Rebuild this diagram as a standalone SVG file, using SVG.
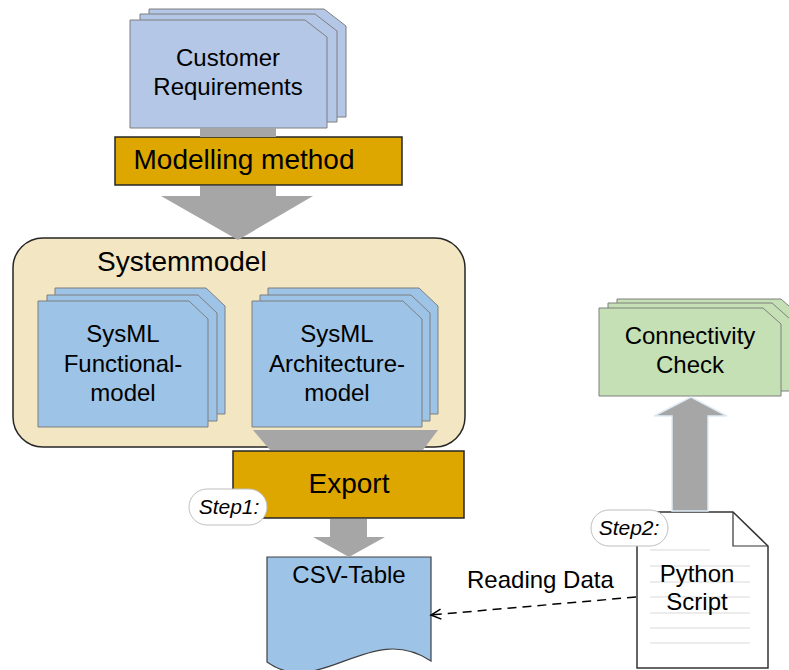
<svg xmlns="http://www.w3.org/2000/svg" width="789" height="670" viewBox="0 0 789 670">
  <style>
    text { font-family: "Liberation Sans", Arial, sans-serif; fill: #000; }
    .lbl { font-size: 24px; text-anchor: middle; }
    .big { font-size: 28px; }
    .step { font-size: 21px; font-style: italic; text-anchor: middle; }
    .card { stroke: #7f7f7f; stroke-width: 1; }
    .blue { fill: #9dc3e6; }
    .lav { fill: #b4c7e7; }
    .green { fill: #c5e0b4; }
    .bar { fill: #dea700; stroke: #262626; stroke-width: 1.5; }
    .flow { fill: #a6a6a6; }
    .pill { fill: #fff; stroke: #bfbfbf; stroke-width: 1; }
    .rule { stroke: #d9d9d9; stroke-width: 1; }
  </style>
  <defs>
    <!-- card outlines with a clipped top-right corner -->
    <path id="cardReq" d="M0,0 H175 L197,17 V108 H0 Z"/>
    <path id="cardSys" d="M0,0 H151 L170,18 V126 H0 Z"/>
    <path id="cardChk" d="M0,0 H164 L182,16 V88 H0 Z"/>
    <marker id="open" markerWidth="14" markerHeight="14" refX="12" refY="7" orient="auto" markerUnits="userSpaceOnUse">
      <path d="M2,2 L12,7 L2,12" fill="none" stroke="#000" stroke-width="1.5"/>
    </marker>
  </defs>

  <g id="customer-requirements">
    <use href="#cardReq" class="card lav" x="149" y="9"/>
    <use href="#cardReq" class="card lav" x="140" y="14"/>
    <use href="#cardReq" class="card lav" x="130" y="20"/>
    <text class="lbl" x="228" y="66">Customer</text>
    <text class="lbl" x="228" y="95">Requirements</text>
  </g>

  <g id="modelling-method">
    <rect class="bar" x="115" y="137" width="287" height="48"/>
    <text class="big" x="244" y="169" text-anchor="middle">Modelling method</text>
  </g>

  <g id="systemmodel">
    <rect x="13" y="238" width="452" height="209" rx="30" fill="#f3e6c3" stroke="#262626" stroke-width="1.5"/>
    <text class="big" x="97" y="271">Systemmodel</text>
  </g>

  <g id="functional-model">
    <use href="#cardSys" class="card blue" x="55" y="288"/>
    <use href="#cardSys" class="card blue" x="47" y="295"/>
    <use href="#cardSys" class="card blue" x="38" y="301"/>
    <text class="lbl" x="123" y="342">SysML</text>
    <text class="lbl" x="123" y="372">Functional-</text>
    <text class="lbl" x="123" y="401">model</text>
  </g>

  <g id="architecture-model">
    <use href="#cardSys" class="card blue" x="268" y="288"/>
    <use href="#cardSys" class="card blue" x="260" y="295"/>
    <use href="#cardSys" class="card blue" x="252" y="301"/>
    <text class="lbl" x="337" y="342">SysML</text>
    <text class="lbl" x="337" y="372">Architecture-</text>
    <text class="lbl" x="337" y="401">model</text>
  </g>

  <g id="export">
    <rect class="bar" x="233" y="451" width="231" height="67"/>
    <text class="big" x="349" y="493" text-anchor="middle">Export</text>
  </g>

  <g id="csv-table">
    <path class="blue" stroke="#404040" stroke-width="1.2" d="M267,557 H431 V661 C370,620 320,700 267,662 Z"/>
    <text class="lbl" x="349" y="583">CSV-Table</text>
  </g>

  <g id="connectivity-check">
    <use href="#cardChk" class="card green" x="617" y="299"/>
    <use href="#cardChk" class="card green" x="608" y="303"/>
    <use href="#cardChk" class="card green" x="599" y="308"/>
    <text class="lbl" x="690" y="344">Connectivity</text>
    <text class="lbl" x="690" y="373">Check</text>
  </g>

  <g id="python-script">
    <path d="M637,512 H733 L768,546 V668 H637 Z" fill="#fff" stroke="#333" stroke-width="1.5"/>
    <path d="M733,512 V546 H768" fill="none" stroke="#333" stroke-width="1.2"/>
    <g class="rule">
      <line x1="650" y1="550" x2="710" y2="550"/>
      <line x1="650" y1="566" x2="750" y2="566"/>
      <line x1="650" y1="582" x2="750" y2="582"/>
      <line x1="650" y1="597" x2="750" y2="597"/>
      <line x1="650" y1="613" x2="750" y2="613"/>
      <line x1="650" y1="628" x2="750" y2="628"/>
      <line x1="650" y1="643" x2="750" y2="643"/>
    </g>
    <text class="lbl" x="697" y="582">Python</text>
    <text class="lbl" x="697" y="610">Script</text>
  </g>

  <!-- gray flow arrows and the data link -->
  <g id="connectors">
    <rect class="flow" x="200" y="128" width="76" height="9"/>
    <path class="flow" d="M200,186 H276 V196 H313 L238,240 L161,196 H200 Z"/>
    <path class="flow" d="M253,430 H438 L423,450 H270 Z"/>
    <path class="flow" d="M330,519 H367 V537 H385 L349,557 L313,537 H330 Z"/>
    <path class="flow" d="M672,511 V416 H654 L691,397 L727,416 H708 V511 Z" stroke="#deebf7" stroke-width="1.5"/>
    <line x1="636" y1="597" x2="431" y2="615" stroke="#000" stroke-width="1.5" stroke-dasharray="9,6" marker-end="url(#open)"/>
    <text x="467" y="588" style="font-size:24px">Reading Data</text>
  </g>

  <!-- step badges -->
  <g id="step1">
    <rect class="pill" x="189" y="489" width="78" height="36" rx="18"/>
    <text class="step" x="229" y="514">Step1:</text>
  </g>
  <g id="step2">
    <rect class="pill" x="591" y="510" width="77" height="36" rx="18"/>
    <text class="step" x="629" y="535">Step2:</text>
  </g>
</svg>
